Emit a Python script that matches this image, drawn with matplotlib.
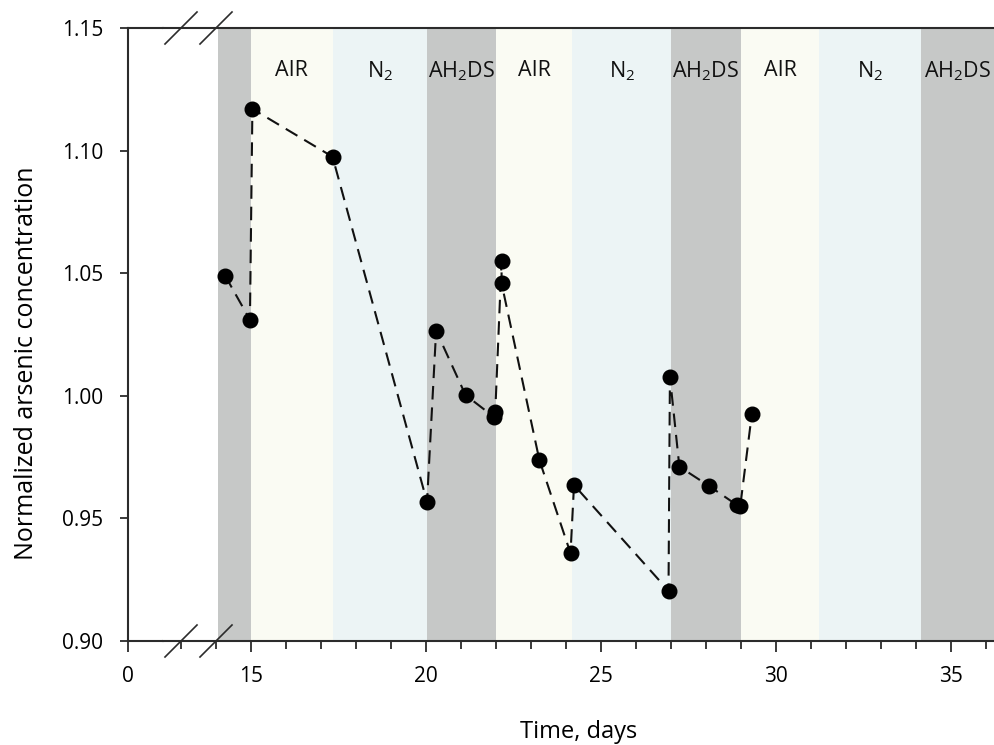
import matplotlib
matplotlib.use("Agg")
import matplotlib.pyplot as plt
from matplotlib.lines import Line2D

plt.rcParams["font.family"] = ["Open Sans", "DejaVu Sans"]
plt.rcParams["mathtext.default"] = "regular"

# Data: time (days) and normalized arsenic concentration
time_days = [14.26, 14.97, 15.04, 17.33, 20.03, 20.29, 21.13, 21.93, 21.98,
             22.16, 22.16, 23.24, 24.13, 24.23, 26.93, 26.97, 27.24, 28.09,
             28.88, 28.98, 29.31]
concentration = [1.049, 1.031, 1.117, 1.0975, 0.9567, 1.0266, 1.0003, 0.9915,
                 0.9935, 1.0551, 1.0459, 0.9738, 0.9358, 0.9636, 0.9205,
                 1.0078, 0.9711, 0.9632, 0.9555, 0.9550, 0.9925]

# Gas phases (start day of each band)
phase_starts = [14.06, 15.0, 17.34, 20.03, 22.0, 24.18, 27.0, 29.0, 31.23, 34.13]
phase_names = ["AH$_2$DS", "AIR", "N$_2$", "AH$_2$DS", "AIR", "N$_2$",
               "AH$_2$DS", "AIR", "N$_2$", "AH$_2$DS"]
phase_colors = {"AIR": "#fafbf3", "N$_2$": "#ecf4f5", "AH$_2$DS": "#c6c8c7"}

y_ticks = [0.90, 0.95, 1.00, 1.05, 1.10, 1.15]

x_end = 36.23
W, H = 994, 745
fig = plt.figure(figsize=(W / 100, H / 100), dpi=100)

bottom = 1 - 641 / H
height = (641 - 28) / H
ax0 = fig.add_axes([128 / W, bottom, 35 / W, height])
ax = fig.add_axes([163 / W, bottom, (W - 163) / W, height], sharey=ax0)

spine_col = "#2b2b2b"

# left piece of the broken axis (only the 0 tick)
ax0.set_xlim(0, 1)
ax0.set_xticks([0])
ax0.set_ylim(0.90, 1.15)
ax0.set_yticks(y_ticks)
ax0.set_yticklabels([f"{v:.2f}" for v in y_ticks])
ax0.spines["right"].set_visible(False)
ax0.set_ylabel("Normalized arsenic concentration", fontsize=18)
ax0.yaxis.set_label_coords(-2.54, 0.4535)

# main piece
ax.set_xlim(12.486, x_end)
ax.spines["left"].set_visible(False)
ax.spines["right"].set_visible(False)
ax.tick_params(axis="y", left=False, labelleft=False)
ax.set_xticks([15, 20, 25, 30, 35])
ax.set_xticks(list(range(13, 37)), minor=True)
ax.set_xlabel("Time, days", fontsize=17, labelpad=24)

for a in (ax0, ax):
    for s in a.spines.values():
        s.set_color(spine_col)
        s.set_linewidth(1.5)
    a.tick_params(which="major", direction="out", length=8, width=1.3,
                  color=spine_col, labelsize=15)
    a.tick_params(which="minor", direction="out", length=6, width=1.3,
                  color=spine_col)
    a.tick_params(axis="x", which="major", pad=10)
ax0.tick_params(axis="y", length=6, pad=12)

# background bands and labels
ends = phase_starts[1:] + [x_end]
for i, (s, e, name) in enumerate(zip(phase_starts, ends, phase_names)):
    ax.axvspan(s, e, color=phase_colors[name], lw=0, zorder=0)
    if i > 0:
        ax.text((s + e) / 2, 1.1325, name, ha="center", va="center",
                fontsize=15.5, color="#111111")

# series
ax.plot(time_days, concentration, color="#111111", lw=1.5,
        dashes=(6.5, 3.8), zorder=2)
ax.plot(time_days, concentration, "o", color="black", ms=10.5, zorder=3)

# break marks
for px in (181, 216):
    for py in (28, 641):
        fig.add_artist(Line2D([(px - 16) / W, (px + 16) / W],
                              [1 - (py + 16) / H, 1 - (py - 16) / H],
                              color=spine_col, lw=1.2))

fig.savefig("out.png", dpi=100)
